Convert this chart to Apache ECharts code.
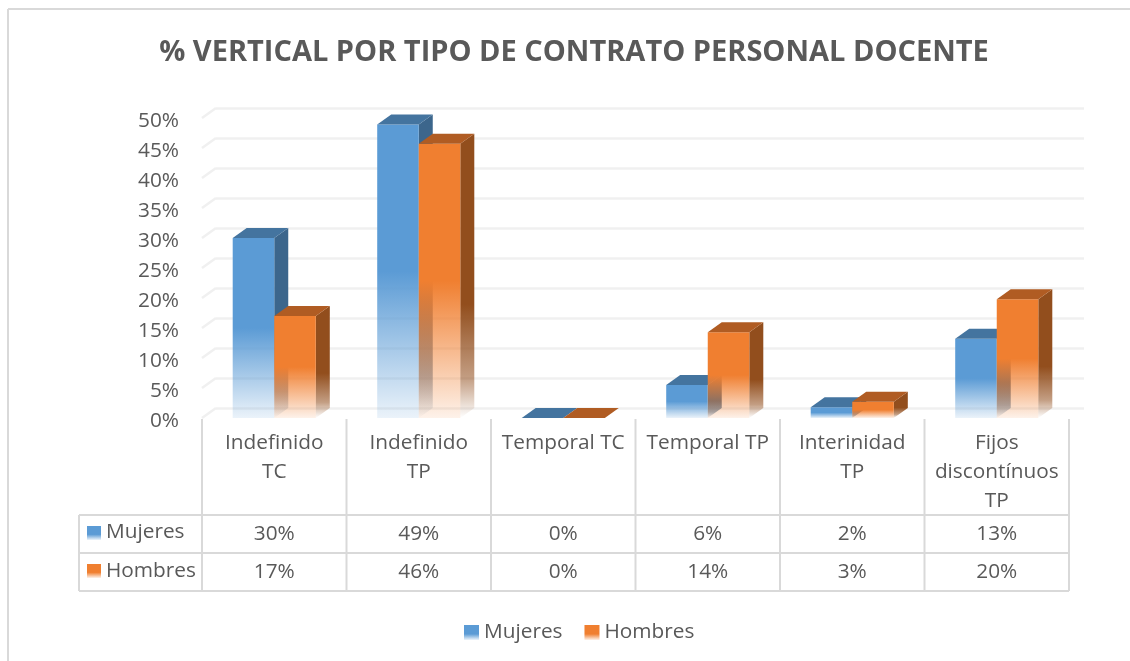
<!DOCTYPE html>
<html>
<head>
<meta charset="utf-8">
<style>html,body{margin:0;padding:0;background:#fff}#c{width:1130px;height:661px}</style>
<script src="https://cdn.jsdelivr.net/npm/echarts@6/dist/echarts.min.js"></script>
</head>
<body>
<div id="c"></div>
<script>
const titleText = '% VERTICAL POR TIPO DE CONTRATO PERSONAL DOCENTE';
const categories = ['Indefinido\nTC', 'Indefinido\nTP', 'Temporal TC', 'Temporal TP', 'Interinidad\nTP', 'Fijos\ndiscontínuos\nTP'];
const mujeres = [30.0, 48.9, 0, 5.5, 1.8, 13.2];
const hombres = [17.0, 45.7, 0, 14.3, 2.7, 19.8];
const yTicks = [0, 5, 10, 15, 20, 25, 30, 35, 40, 45, 50];

const FONT = '"Open Sans", sans-serif';
const TEXT = '#595959';
const LINE = '#d9d9d9';
const GRIDLINE = '#f0f0f0';
const FS = 20.8;
const DX = 14, DY = 10;
const BAR_RATIO = 0.2875;

function fade(r, g, b, from, end) {
  const c = a => `rgba(${r},${g},${b},${a})`;
  return { type: 'linear', x: 0, y: 0, x2: 0, y2: 1, colorStops: [
    { offset: 0, color: c(1) }, { offset: from, color: c(1) }, { offset: 1, color: c(end) }
  ] };
}
function sideFade(r, g, b) {
  const c = a => `rgba(${r},${g},${b},${a})`;
  return { type: 'linear', x: 0, y: 0, x2: 0, y2: 1, colorStops: [
    { offset: 0, color: c(1) }, { offset: 0.6, color: c(1) }, { offset: 0.86, color: c(0.55) }, { offset: 1, color: c(0) }
  ] };
}
const BLUE = { front: fade(91, 155, 213, 0.5, 0.12), top: '#44749f', side: sideFade(60, 102, 140) };
const ORANGE = { front: fade(240, 127, 48, 0.5, 0.1), top: '#b05c23', side: sideFade(146, 78, 29) };

function barRenderer(style, dir) {
  return function (params, api) {
    const i = api.value(0), v = api.value(1);
    const w = api.size([1, 0])[0] * BAR_RATIO;
    const base = api.coord([i, 0]), top = api.coord([i, v]);
    const x0 = base[0] + (dir < 0 ? -w : 0), x1 = x0 + w;
    const yT = top[1], yB = base[1];
    const children = [];
    if (yB - yT > 0.5) {
      children.push({ type: 'polygon', shape: { points: [[x1, yT], [x1 + DX, yT - DY], [x1 + DX, yB - DY], [x1, yB]] }, style: { fill: style.side } });
      children.push({ type: 'rect', shape: { x: x0, y: yT, width: w, height: yB - yT }, style: { fill: style.front } });
    }
    children.push({ type: 'polygon', shape: { points: [[x0, yT], [x0 + DX, yT - DY], [x1 + DX, yT - DY], [x1, yT]] }, style: { fill: style.top } });
    return { type: 'group', children };
  };
}

function diagonalRenderer(params, api) {
  const p = api.coord([api.value(0), api.value(1)]);
  const x = p[0] - api.size([1, 0])[0] / 2;
  return { type: 'line', shape: { x1: x, y1: p[1], x2: x + DX, y2: p[1] - DY }, style: { stroke: GRIDLINE, lineWidth: 2.5 } };
}

const ROW_TOP = 515, ROW_H = 38, TABLE_LEFT = 79;
function tableRenderer(params, api) {
  const i = api.value(0);
  const cx = api.coord([i, 0])[0], w = api.size([1, 0])[0];
  const x0 = cx - w / 2, x1 = cx + w / 2, yAxisZero = api.coord([i, 0])[1];
  const ln = (a, b, c, d) => ({ type: 'line', shape: { x1: a, y1: b, x2: c, y2: d }, style: { stroke: LINE, lineWidth: 2 } });
  const txt = (s, y) => ({ type: 'text', style: { text: s, x: cx, y, align: 'center', verticalAlign: 'middle', font: FS + 'px ' + FONT, fill: TEXT } });
  const children = [
    ln(x1, yAxisZero + 1, x1, ROW_TOP + 2 * ROW_H),
    txt(Math.round(mujeres[i]) + '%', ROW_TOP + 19),
    txt(Math.round(hombres[i]) + '%', ROW_TOP + ROW_H + 19)
  ];
  if (i === 0) children.push(ln(x0, yAxisZero + 1, x0, ROW_TOP + 2 * ROW_H));
  return { type: 'group', children };
}

const chart = echarts.init(document.getElementById('c'), null, { renderer: 'canvas' });

function swatch(y, fill) {
  return { type: 'rect', silent: true, shape: { x: 87, y, width: 14, height: 14 }, style: { fill } };
}
function rowLabel(text, y) {
  return { type: 'text', silent: true, style: { text, x: 106, y, verticalAlign: 'middle', font: FS + 'px ' + FONT, fill: TEXT } };
}

chart.setOption({
  animation: false,
  backgroundColor: '#ffffff',
  title: {
    text: titleText, left: 569, top: 33, textAlign: 'center',
    textStyle: { fontFamily: FONT, fontSize: 29, fontWeight: 'bold', color: TEXT }
  },
  legend: {
    left: 459, top: 617, itemWidth: 15, itemHeight: 15, itemGap: 22, icon: 'rect',
    textStyle: { fontFamily: FONT, fontSize: FS, color: TEXT },
    data: [
      { name: 'Mujeres', itemStyle: { color: fade(91, 155, 213, 0.6, 0.1) } },
      { name: 'Hombres', itemStyle: { color: fade(240, 127, 48, 0.6, 0.1) } }
    ]
  },
  grid: [
    { left: 202, right: 61, top: 118, height: 300 },
    { left: 216, right: 46, top: 108, height: 300 }
  ],
  xAxis: [
    {
      type: 'category', gridIndex: 0, data: categories,
      axisLine: { show: false }, axisTick: { show: false },
      axisLabel: { interval: 0, margin: 11, fontFamily: FONT, fontSize: FS, color: TEXT, lineHeight: 29, verticalAlign: 'top' }
    },
    { type: 'category', gridIndex: 1, data: categories, show: false }
  ],
  yAxis: [
    {
      type: 'value', gridIndex: 0, min: 0, max: 50, interval: 5,
      axisLine: { show: false }, axisTick: { show: false }, splitLine: { show: false },
      axisLabel: { formatter: '{value}%', margin: 23, fontFamily: FONT, fontSize: FS, color: TEXT, verticalAlign: 'top', lineHeight: 6 }
    },
    {
      type: 'value', gridIndex: 1, min: 0, max: 50, interval: 5,
      axisLine: { show: false }, axisTick: { show: false }, axisLabel: { show: false },
      splitLine: { show: true, lineStyle: { color: GRIDLINE, width: 2.5 } }
    }
  ],
  series: [
    { type: 'custom', name: 'diagonales', xAxisIndex: 0, yAxisIndex: 0, silent: true, clip: false, z: 1,
      encode: { x: 0, y: 1 }, data: yTicks.map(t => [0, t]), renderItem: diagonalRenderer },
    { type: 'custom', name: 'Mujeres', xAxisIndex: 0, yAxisIndex: 0, clip: false, z: 3,
      itemStyle: { color: '#5b9bd5' }, encode: { x: 0, y: 1 },
      data: mujeres.map((v, i) => [i, v]), renderItem: barRenderer(BLUE, -1) },
    { type: 'custom', name: 'Hombres', xAxisIndex: 0, yAxisIndex: 0, clip: false, z: 4,
      itemStyle: { color: '#ed7d31' }, encode: { x: 0, y: 1 },
      data: hombres.map((v, i) => [i, v]), renderItem: barRenderer(ORANGE, 1) },
    { type: 'custom', name: 'tabla', xAxisIndex: 0, yAxisIndex: 0, silent: true, clip: false, z: 2,
      encode: { x: 0 }, data: categories.map((c, i) => [i]), renderItem: tableRenderer }
  ],
  graphic: [
    { type: 'line', silent: true, shape: { x1: 8, y1: 661, x2: 8, y2: 9 }, style: { stroke: LINE, lineWidth: 2 } },
    { type: 'line', silent: true, shape: { x1: 8, y1: 9, x2: 1130, y2: 9 }, style: { stroke: LINE, lineWidth: 2 } },
    { type: 'line', silent: true, shape: { x1: TABLE_LEFT, y1: ROW_TOP, x2: 1069, y2: ROW_TOP }, style: { stroke: LINE, lineWidth: 2 } },
    { type: 'line', silent: true, shape: { x1: TABLE_LEFT, y1: ROW_TOP + ROW_H, x2: 1069, y2: ROW_TOP + ROW_H }, style: { stroke: LINE, lineWidth: 2 } },
    { type: 'line', silent: true, shape: { x1: TABLE_LEFT, y1: ROW_TOP + 2 * ROW_H, x2: 1069, y2: ROW_TOP + 2 * ROW_H }, style: { stroke: LINE, lineWidth: 2 } },
    { type: 'line', silent: true, shape: { x1: TABLE_LEFT, y1: ROW_TOP, x2: TABLE_LEFT, y2: ROW_TOP + 2 * ROW_H }, style: { stroke: LINE, lineWidth: 2 } },
    swatch(526, fade(91, 155, 213, 0.6, 0.1)),
    swatch(564, fade(240, 127, 48, 0.6, 0.1)),
    rowLabel('Mujeres', 532),
    rowLabel('Hombres', 571)
  ]
});
</script>
</body>
</html>
